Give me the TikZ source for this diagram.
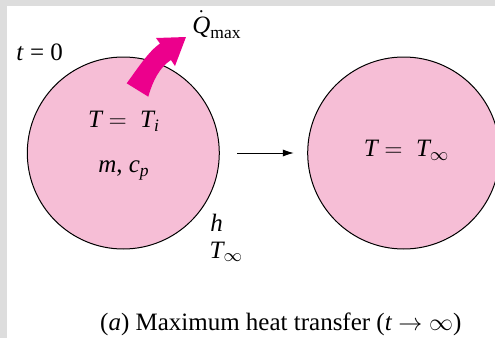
\documentclass[tikz,border=0pt]{standalone}
\usepackage{amsmath}
\usepackage{fontspec}
\setmainfont{Liberation Serif}
\usetikzlibrary{positioning,arrows.meta}
\definecolor{bodypink}{RGB}{246,190,214}
\definecolor{heatmag}{RGB}{236,0,140}
\definecolor{framegray}{RGB}{221,221,221}

\begin{document}
\begin{tikzpicture}[
    x=0.5pt, y=-0.5pt,
    >={Latex[length=5.5pt, width=3.6pt]},
    body/.style={circle, draw, fill=bodypink, line width=0.5pt,
                 minimum size=96pt, inner sep=0pt},
    lbl/.style={inner sep=0pt, anchor=base west, font=\fontsize{12.5}{15}\selectfont},
    midlbl/.style={lbl, anchor=base},
  ]
    % frame
    \useasboundingbox (0,0) rectangle (495,338);
    \fill[framegray] (0,0) rectangle (495,338);
    \fill[white] (7.5,6) rectangle (495,338);

    % the two states of the body
    \node[body] (ball) at (123.3,153) {};
    \node[body, right=43.7pt of ball] (ballinf) {};
    \draw[->, line width=0.5pt, shorten <=8.7pt, shorten >=6.7pt] (ball) -- (ballinf);

    % heat leaving the body
    \fill[heatmag] (126.7,83.3) .. controls (138,68) and (148,52) .. (160,43.5)
        -- (156,38) -- (186,37) -- (175,66) -- (171,60)
        .. controls (160,67) and (153,80) .. (148.3,96.7) -- cycle;

    \node[lbl] (tzero) at (16,60) {\textit{t} = 0};
    \node[lbl] (qmax) at (192,33) {$\dot{\textit{Q}}_{\text{max}}$};
    \node[midlbl] (tinit) at (124,127.7) {$\textit{T} = \;\textit{T}_{\textit{i}}$};
    \node[midlbl] (mass) at (124,172.7) {$\textit{m}\text{, }\textit{c}_{\textit{p}}$};
    \node[midlbl] (tfinal) at (406.7,156.7) {$\textit{T} = \;\textit{T}_{\infty}$};
    \node[lbl] (hcoef) at (210,231.7) {\textit{h}};
    \node[lbl] (tamb) at (209.3,258.3) {$\textit{T}_{\infty}$};
    \node[midlbl] (caption) at (280.8,330) {(\textit{a}) Maximum heat transfer ($\textit{t}\rightarrow\infty$)};
\end{tikzpicture}
\end{document}
